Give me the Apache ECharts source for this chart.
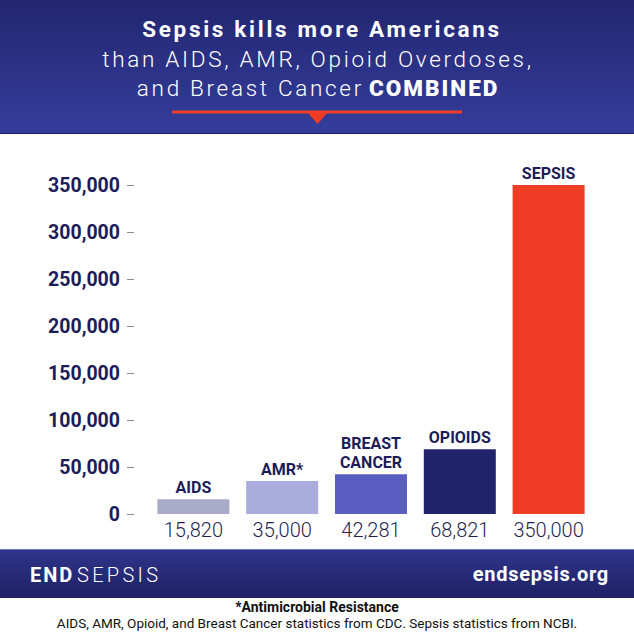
<!DOCTYPE html>
<html><head><meta charset="utf-8">
<style>html,body{margin:0;padding:0;background:#fff}#c{width:634px;height:634px}</style>
<script src="https://cdn.jsdelivr.net/npm/echarts@6/dist/echarts.min.js"></script>
</head><body><div id="c"></div>
<script>
const categories = ['AIDS', 'AMR*', 'BREAST\nCANCER', 'OPIOIDS', 'SEPSIS'];
const values = [15820, 35000, 42281, 68821, 350000];
const valueLabels = ['15,820', '35,000', '42,281', '68,821', '350,000'];
const yMin = 0, yMax = 350000, yStep = 50000;
const barColors = ['#a9aac7', '#a9acdd', '#5a5ec0', '#22246b', '#ee3c25'];

const navy = '#1c1c58';
// letter spacing for header/footer texts (applied to the rendered SVG text nodes)
const spacing = {
  'Sepsis kills more Americans': '2.7px',
  'than AIDS, AMR, Opioid Overdoses,': '2.7px',
  'and Breast Cancer': '2.7px',
  'COMBINED': '2px',
  'END': '2px',
  'SEPSIS': '3.3px',
  'endsepsis.org': '0.7px'
};
const chart = echarts.init(document.getElementById('c'), null, {renderer: 'svg'});
chart.setOption({
  animation: false,
  backgroundColor: '#ffffff',
  grid: {left: 149, right: 41, top: 185, bottom: 120, containLabel: false},
  xAxis: {
    type: 'category', data: categories,
    axisLine: {show: false}, axisTick: {show: false},
    axisLabel: {
      interval: 0,
      formatter: (v, i) => valueLabels[i],
      margin: 6, fontFamily: 'Roboto', fontWeight: 300, fontSize: 20, color: '#1f1f4f'
    }
  },
  yAxis: {
    type: 'value', min: yMin, max: yMax, interval: yStep, offset: 15,
    splitLine: {show: false},
    axisLine: {show: false},
    axisTick: {show: true, length: 7, lineStyle: {color: '#8a8a9a', width: 1}},
    axisLabel: {
      margin: 14, fontFamily: 'Roboto', fontWeight: 700, fontSize: 19.5, color: navy,
      formatter: v => v.toLocaleString('en-US')
    }
  },
  series: [{
    type: 'bar', barWidth: 72,
    data: values.map((v, i) => ({value: v, itemStyle: {color: barColors[i]}})),
    label: {
      show: true, position: 'top', distance: 2.5,
      formatter: p => categories[p.dataIndex],
      fontFamily: 'Roboto', fontWeight: 700, fontSize: 16, lineHeight: 19, color: navy
    }
  }],
  graphic: [
    {type: 'rect', left: 0, top: 0, shape: {width: 634, height: 134}, z: 0,
     style: {fill: new echarts.graphic.LinearGradient(0, 0, 0, 1, [{offset: 0, color: '#222670'}, {offset: 1, color: '#353d9c'}])}},
    {type: 'rect', left: 0, top: 133, shape: {width: 634, height: 1}, style: {fill: '#1d2060'}},
    {type: 'rect', left: 172, top: 110.5, shape: {width: 290, height: 3}, style: {fill: '#ee3c25'}},
    {type: 'polygon', shape: {points: [[307, 112], [328, 112], [317.5, 124]]}, style: {fill: '#ee3c25'}},
    {type: 'text', x: 322, y: 29, style: {text: 'Sepsis kills more Americans', fill: '#fff', font: '700 22.5px Roboto', textAlign: 'center', textVerticalAlign: 'middle'}},
    {type: 'text', x: 318, y: 59, style: {text: 'than AIDS, AMR, Opioid Overdoses,', fill: '#fff', font: '300 22.5px Roboto', textAlign: 'center', textVerticalAlign: 'middle'}},
    {type: 'text', x: 364, y: 88, style: {text: 'and Breast Cancer', fill: '#fff', font: '300 22.5px Roboto', textAlign: 'right', textVerticalAlign: 'middle'}},
    {type: 'text', x: 369, y: 88, style: {text: 'COMBINED', fill: '#fff', font: '900 22.5px Roboto', textAlign: 'left', textVerticalAlign: 'middle'}},
    {type: 'rect', left: 0, top: 549, shape: {width: 634, height: 49},
     style: {fill: new echarts.graphic.LinearGradient(0, 0, 0, 1, [{offset: 0, color: '#30358c'}, {offset: 1, color: '#1e2163'}])}},
    {type: 'rect', left: 0, top: 549, shape: {width: 634, height: 1}, style: {fill: '#6f78c8'}},
    {type: 'text', x: 30, y: 575, style: {text: 'END', fill: '#fff', font: '700 20px Roboto', textAlign: 'left', textVerticalAlign: 'middle'}},
    {type: 'text', x: 77, y: 575, style: {text: 'SEPSIS', fill: '#fff', font: '300 20px Roboto', textAlign: 'left', textVerticalAlign: 'middle'}},
    {type: 'text', x: 609, y: 574, style: {text: 'endsepsis.org', fill: '#fff', font: '700 20px Roboto', textAlign: 'right', textVerticalAlign: 'middle'}},
    {type: 'text', x: 317, y: 607, style: {text: '*Antimicrobial Resistance', fill: '#111', font: '700 14px Roboto', textAlign: 'center', textVerticalAlign: 'middle'}},
    {type: 'text', x: 317, y: 622.5, style: {text: 'AIDS, AMR, Opioid, and Breast Cancer statistics from CDC. Sepsis statistics from NCBI.', fill: '#111', font: '400 13.5px Roboto', textAlign: 'center', textVerticalAlign: 'middle'}}
  ]
});
document.querySelectorAll('#c svg text').forEach(t => {
  const s = spacing[t.textContent];
  const r = t.getBoundingClientRect();
  if (s && (r.bottom < 140 || r.top > 540)) t.style.letterSpacing = s;
});
</script></body></html>
